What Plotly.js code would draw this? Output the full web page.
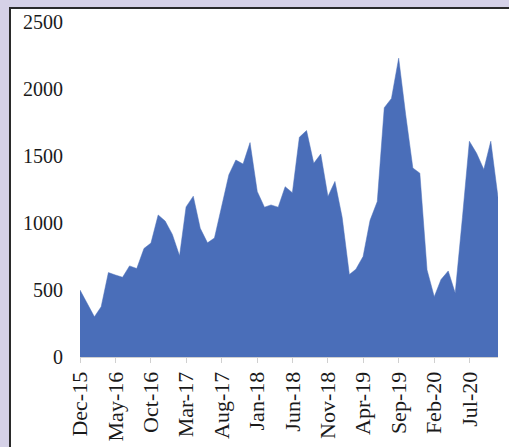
<!DOCTYPE html>
<html>
<head>
<meta charset="utf-8">
<script src="https://cdn.plot.ly/plotly-3.0.1.min.js"></script>
<style>
  html, body { margin: 0; padding: 0; width: 509px; height: 447px; overflow: hidden; background: #d5d1e7; }
  #frame { position: absolute; left: 9px; top: 7px; width: 520px; height: 460px; background: #ffffff; border-left: 2px solid #2a2a2a; border-top: 2px solid #2a2a2a; box-sizing: border-box; }
  #chart { position: absolute; left: 0; top: 0; width: 509px; height: 447px; }
</style>
</head>
<body>
<div id="frame"></div>
<div id="chart"></div>
<script>
const months = [
  "2015-12-01",
  "2016-01-01","2016-02-01","2016-03-01","2016-04-01","2016-05-01","2016-06-01",
  "2016-07-01","2016-08-01","2016-09-01","2016-10-01","2016-11-01","2016-12-01",
  "2017-01-01","2017-02-01","2017-03-01","2017-04-01","2017-05-01","2017-06-01",
  "2017-07-01","2017-08-01","2017-09-01","2017-10-01","2017-11-01","2017-12-01",
  "2018-01-01","2018-02-01","2018-03-01","2018-04-01","2018-05-01","2018-06-01",
  "2018-07-01","2018-08-01","2018-09-01","2018-10-01","2018-11-01","2018-12-01",
  "2019-01-01","2019-02-01","2019-03-01","2019-04-01","2019-05-01","2019-06-01",
  "2019-07-01","2019-08-01","2019-09-01","2019-10-01","2019-11-01","2019-12-01",
  "2020-01-01","2020-02-01","2020-03-01","2020-04-01","2020-05-01","2020-06-01",
  "2020-07-01","2020-08-01","2020-09-01","2020-10-01","2020-11-01"
];
const values = [
  500,
  400, 300, 375, 630, 612, 595,
  680, 660, 810, 850, 1060, 1015,
  915, 755, 1120, 1200, 960, 852,
  888, 1130, 1360, 1470, 1440, 1600,
  1235, 1118, 1135, 1118, 1271, 1226,
  1640, 1690, 1445, 1515, 1198, 1310,
  1042, 615, 655, 750, 1020, 1160,
  1860, 1930, 2230, 1810, 1410, 1372,
  650, 450, 578, 642, 478, 1040,
  1610, 1520, 1400, 1610, 1192
];
const yTicks = [0, 500, 1000, 1500, 2000, 2500];

const fillColor = "#4a6eb9";
const serif = "Liberation Serif, Times New Roman, serif";

const trace = {
  x: months,
  y: values,
  type: "scatter",
  mode: "lines",
  fill: "tozeroy",
  fillcolor: fillColor,
  line: { color: fillColor, width: 0.5 },
  hoverinfo: "skip"
};

const layout = {
  width: 509,
  height: 447,
  margin: { l: 80, r: 11, t: 22, b: 90 },
  paper_bgcolor: "rgba(0,0,0,0)",
  plot_bgcolor: "rgba(0,0,0,0)",
  showlegend: false,
  font: { family: serif, size: 20, color: "#1a1a1a" },
  xaxis: {
    type: "date",
    range: [months[0], months[months.length - 1]],
    tick0: months[0],
    dtick: "M5",
    tickformat: "%b-%y",
    tickangle: -90,
    showgrid: false,
    zeroline: false,
    showline: true,
    linecolor: "#d0d0d0",
    linewidth: 1,
    ticks: "outside",
    ticklen: 5,
    tickcolor: "#d0d0d0",
    tickfont: { family: serif, size: 22, color: "#1a1a1a" }
  },
  yaxis: {
    range: [0, 2500],
    tickvals: yTicks,
    showgrid: false,
    zeroline: false,
    showline: false,
    ticks: "",
    ticklabelstandoff: 16,
    tickfont: { family: serif, size: 20, color: "#1a1a1a" }
  }
};

Plotly.newPlot("chart", [trace], layout, { displayModeBar: false, staticPlot: true });
</script>
</body>
</html>
